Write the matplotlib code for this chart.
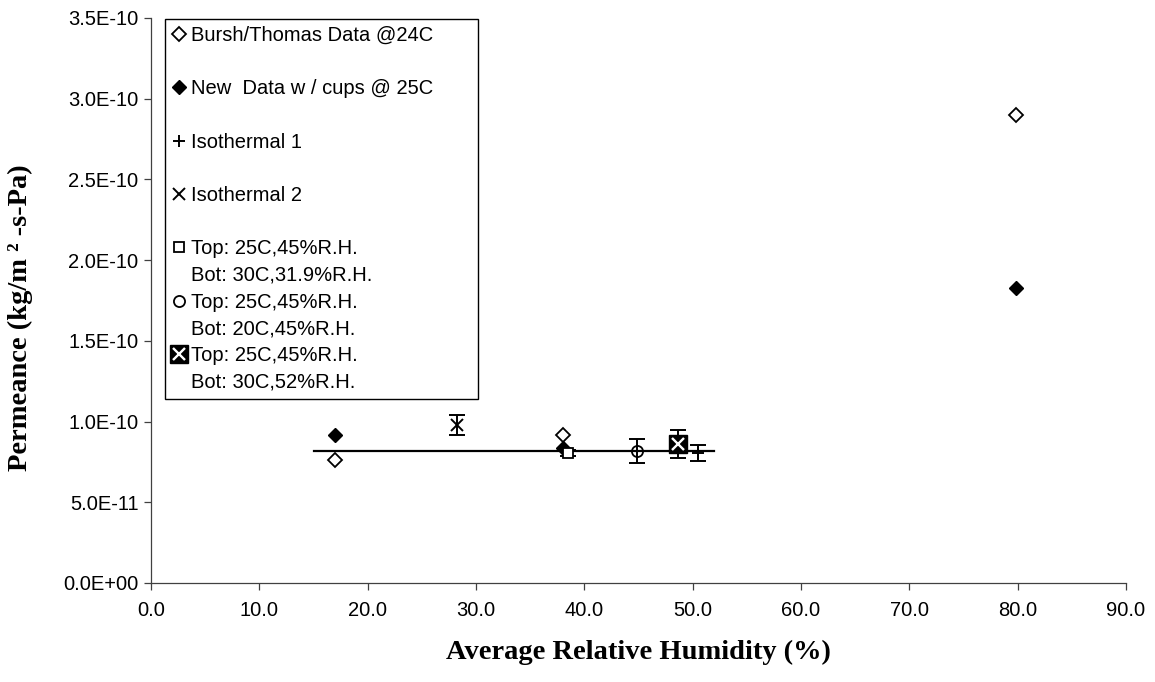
import numpy as np
import matplotlib
matplotlib.use('Agg')
import matplotlib.pyplot as plt
from matplotlib.lines import Line2D
from matplotlib.ticker import FuncFormatter, MultipleLocator

matplotlib.rc('font', family='Liberation Sans', size=14.5)

# relative humidity (%) and permeance (kg/m2-s-Pa)
bursh_rh = [17.0, 38.0, 79.8]
bursh_perm = [7.62e-11, 9.17e-11, 2.90e-10]

cups_rh = [17.0, 38.0, 79.8]
cups_perm = [9.17e-11, 8.36e-11, 1.83e-10]

iso1_rh = [50.5]
iso1_perm = [8.05e-11]
iso1_err = [5.0e-12]

iso2_rh = [28.2]
iso2_perm = [9.79e-11]
iso2_err = [6.2e-12]

top1_rh = [38.5]
top1_perm = [8.05e-11]
top1_err = [2.0e-12]

top2_rh = [44.9]
top2_perm = [8.18e-11]
top2_err = [7.4e-12]

top3_rh = [48.6]
top3_perm = [8.61e-11]
top3_err = [8.4e-12]

fit_rh = [15.0, 52.0]
fit_perm = [8.18e-11, 8.18e-11]

fig = plt.figure(figsize=(11.55, 6.82), dpi=100)
ax = fig.add_axes([151/1155, 99/682, 975/1155, 565/682])

ax.plot(fit_rh, fit_perm, color='black', lw=1.6, zorder=1)

eb = dict(fmt='none', ecolor='black', elinewidth=1.4, capsize=5.5, capthick=1.4, zorder=2)
ax.errorbar(iso1_rh, iso1_perm, yerr=iso1_err, **eb)
ax.errorbar(iso2_rh, iso2_perm, yerr=iso2_err, **eb)
ax.errorbar(top1_rh, top1_perm, yerr=top1_err, **eb)
ax.errorbar(top2_rh, top2_perm, yerr=top2_err, **eb)
ax.errorbar(top3_rh, top3_perm, yerr=top3_err, **eb)

h_bursh, = ax.plot(bursh_rh, bursh_perm, 'D', ms=7, mfc='white', mec='black', mew=1.3, ls='none', zorder=3)
h_cups, = ax.plot(cups_rh, cups_perm, 'D', ms=7, mfc='black', mec='black', ls='none', zorder=3)
h_iso1, = ax.plot(iso1_rh, iso1_perm, '+', ms=9, mec='black', mew=1.4, ls='none', zorder=3)
h_iso2, = ax.plot(iso2_rh, iso2_perm, 'x', ms=8, mec='black', mew=1.4, ls='none', zorder=3)
h_top1, = ax.plot(top1_rh, top1_perm, 's', ms=7, mfc='white', mec='black', mew=1.3, ls='none', zorder=3)
h_top2, = ax.plot(top2_rh, top2_perm, 'o', ms=8, mfc='none', mec='black', mew=1.3, ls='none', zorder=3)
h_top3a, = ax.plot(top3_rh, top3_perm, 's', ms=13, mfc='black', mec='black', ls='none', zorder=3)
h_top3b, = ax.plot(top3_rh, top3_perm, 'x', ms=9, mec='white', mew=1.7, ls='none', zorder=4)

ax.set_xlim(0, 90)
ax.set_ylim(0, 3.5e-10)
ax.xaxis.set_major_locator(MultipleLocator(10))
ax.yaxis.set_major_locator(MultipleLocator(5e-11))
ax.xaxis.set_major_formatter(FuncFormatter(lambda v, p: '%.1f' % v))
ax.yaxis.set_major_formatter(FuncFormatter(lambda v, p: '%.1E' % v))
ax.tick_params(direction='out', length=5, width=0.9, color='#404040')
ax.tick_params(axis='y', pad=4)
ax.tick_params(axis='x', pad=8)

for side in ['top', 'right']:
    ax.spines[side].set_visible(False)
for side in ['left', 'bottom']:
    ax.spines[side].set_color('#404040')
    ax.spines[side].set_linewidth(0.9)

ax.set_xlabel('Average Relative Humidity (%)', family='Liberation Serif',
              weight='bold', size=20.5)
ax.set_ylabel('Permeance (kg/m ² -s-Pa)', family='Liberation Serif',
              weight='bold', size=20.5)
ax.xaxis.set_label_coords(0.5, -0.101)
ax.yaxis.set_label_coords(-0.121, 0.47)

blank = Line2D([], [], ls='none', marker='none')
handles = [h_bursh, blank, h_cups, blank, h_iso1, blank, h_iso2, blank,
           h_top1, blank, h_top2, blank, (h_top3a, h_top3b), blank]
labels = ['Bursh/Thomas Data @24C', ' ', 'New  Data w / cups @ 25C', ' ',
          'Isothermal 1', ' ', 'Isothermal 2', ' ',
          'Top: 25C,45%R.H.', 'Bot: 30C,31.9%R.H.',
          'Top: 25C,45%R.H.', 'Bot: 20C,45%R.H.',
          'Top: 25C,45%R.H.', 'Bot: 30C,52%R.H.']
leg = fig.legend(handles, labels, loc='upper left',
                 bbox_to_anchor=(165/1155, 1 - 19/682, 313/1155, 0),
                 bbox_transform=fig.transFigure, mode='expand',
                 borderaxespad=0, frameon=True, fancybox=False,
                 edgecolor='black', framealpha=1, labelspacing=0.38,
                 handlelength=0.7, handletextpad=0.25, borderpad=0.35,
                 fontsize=14.5)
leg.get_frame().set_linewidth(1.0)

plt.savefig('out.png', dpi=100)
